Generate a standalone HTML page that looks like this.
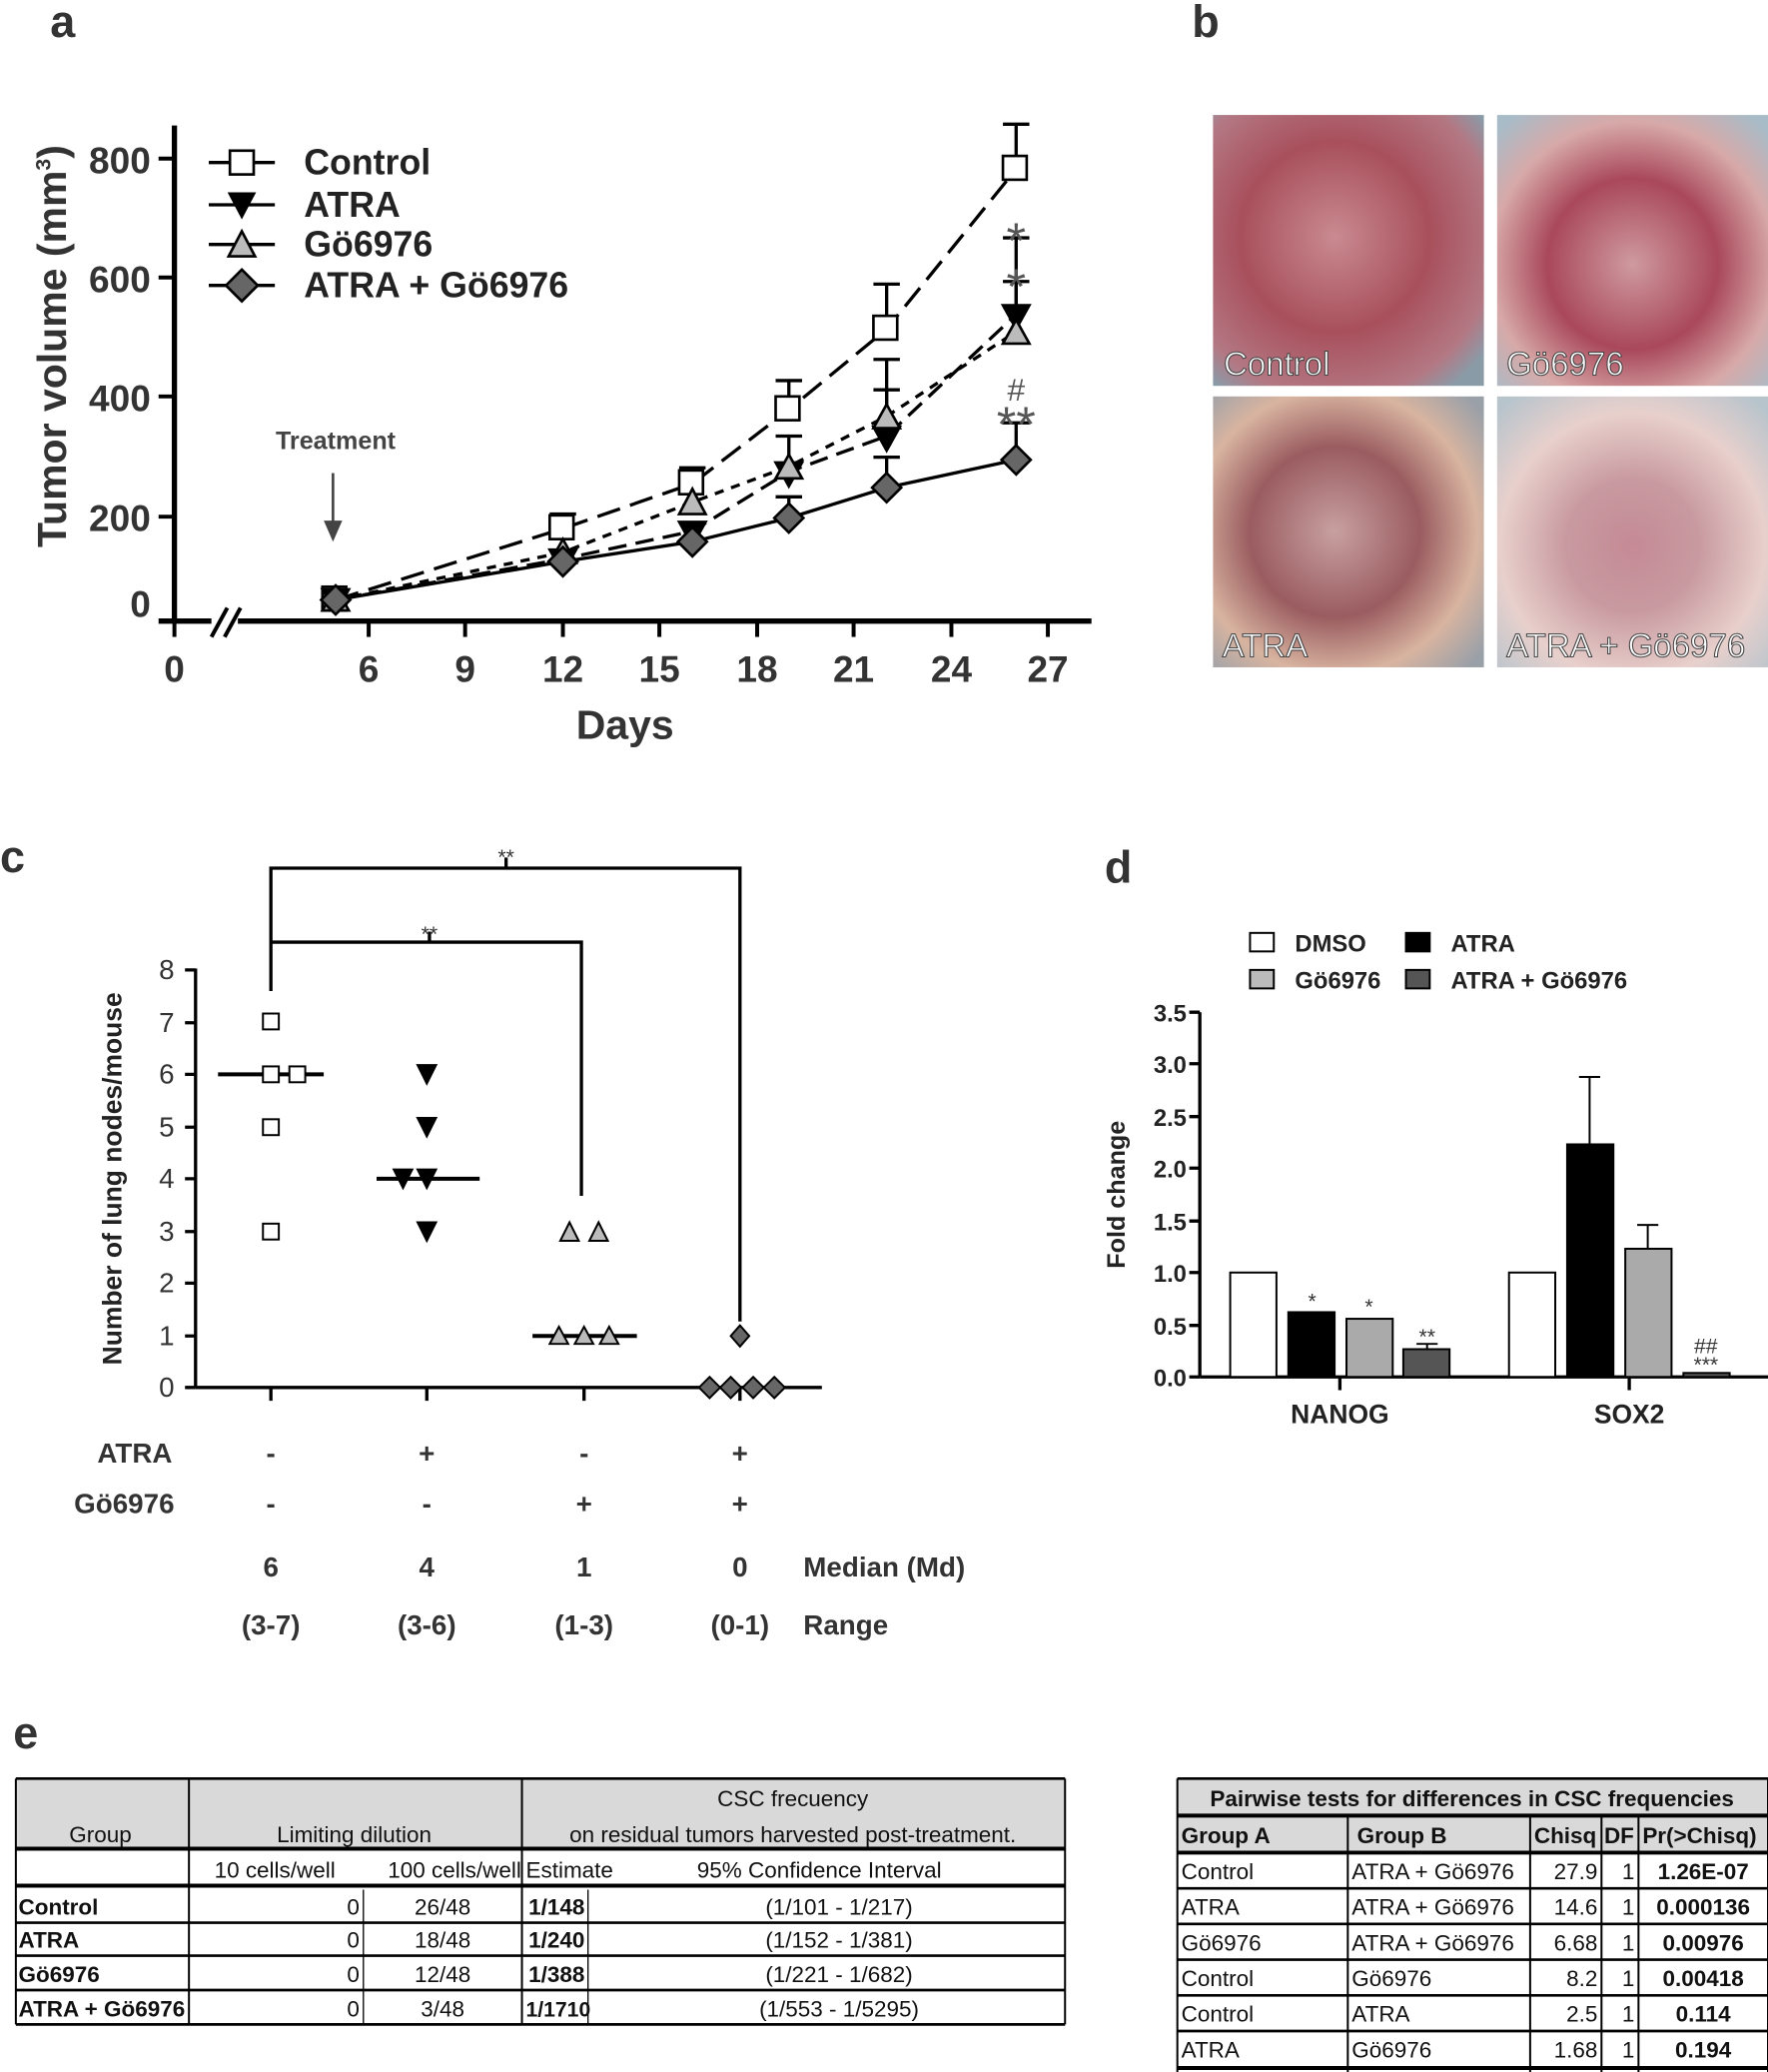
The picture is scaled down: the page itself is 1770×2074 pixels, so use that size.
<!DOCTYPE html>
<html><head><meta charset="utf-8"><style>
html,body{margin:0;padding:0;background:#fff;}
svg{display:block;}
text{font-family:"Liberation Sans",sans-serif;}
</style></head><body>
<svg width="1770" height="2074" viewBox="0 0 1338 1568" preserveAspectRatio="none" xmlns="http://www.w3.org/2000/svg">
<defs>
<radialGradient id="p1" cx="0.45" cy="0.45" r="0.7"><stop offset="0" stop-color="#c98a90"/><stop offset="0.5" stop-color="#a8505c"/><stop offset="0.85" stop-color="#b37883"/><stop offset="1" stop-color="#8a9ba8"/></radialGradient>
<radialGradient id="p2" cx="0.5" cy="0.55" r="0.7"><stop offset="0" stop-color="#cf9aa0"/><stop offset="0.45" stop-color="#a9485a"/><stop offset="0.75" stop-color="#d7a9a8"/><stop offset="1" stop-color="#a8bcc8"/></radialGradient>
<radialGradient id="p3" cx="0.45" cy="0.5" r="0.7"><stop offset="0" stop-color="#c8a0a0"/><stop offset="0.45" stop-color="#9a5c60"/><stop offset="0.75" stop-color="#d8b4a0"/><stop offset="1" stop-color="#9aa0a8"/></radialGradient>
<radialGradient id="p4" cx="0.5" cy="0.55" r="0.7"><stop offset="0" stop-color="#c58a95"/><stop offset="0.35" stop-color="#c89aa0"/><stop offset="0.7" stop-color="#e8d0cc"/><stop offset="1" stop-color="#b8c4cc"/></radialGradient>
</defs>

<!-- Panel a -->
<text x="38" y="28" font-size="34" font-weight="bold" fill="#333">a</text>
<g stroke="#000" stroke-width="4" fill="none">
<line x1="132" y1="95" x2="132" y2="470"/>
<line x1="120" y1="470" x2="160" y2="470"/>
<line x1="180" y1="470" x2="826" y2="470"/>
</g>
<g stroke="#000" stroke-width="3">
<line x1="160" y1="482" x2="172" y2="460"/><line x1="170" y1="482" x2="182" y2="460"/>
<line x1="120" y1="120" x2="132" y2="120"/><line x1="120" y1="210" x2="132" y2="210"/><line x1="120" y1="300" x2="132" y2="300"/><line x1="120" y1="391" x2="132" y2="391"/>
<line x1="132" y1="470" x2="132" y2="482"/><line x1="279" y1="470" x2="279" y2="482"/><line x1="352" y1="470" x2="352" y2="482"/><line x1="426" y1="470" x2="426" y2="482"/><line x1="499" y1="470" x2="499" y2="482"/><line x1="573" y1="470" x2="573" y2="482"/><line x1="646" y1="470" x2="646" y2="482"/><line x1="720" y1="470" x2="720" y2="482"/><line x1="793" y1="470" x2="793" y2="482"/>
</g>
<g font-size="28" font-weight="bold" fill="#333" text-anchor="end">
<text x="114" y="131">800</text><text x="114" y="221">600</text><text x="114" y="311">400</text><text x="114" y="402">200</text><text x="114" y="467">0</text>
</g>
<g font-size="28" font-weight="bold" fill="#333" text-anchor="middle">
<text x="132" y="516">0</text><text x="279" y="516">6</text><text x="352" y="516">9</text><text x="426" y="516">12</text><text x="499" y="516">15</text><text x="573" y="516">18</text><text x="646" y="516">21</text><text x="720" y="516">24</text><text x="793" y="516">27</text>
<text x="473" y="559" font-size="31">Days</text>
<text transform="translate(50,262) rotate(-90)" font-size="31">Tumor volume (mm<tspan font-size="16" dy="-12">3</tspan><tspan dy="12">)</tspan></text>
</g>
<text x="254" y="340" font-size="19" font-weight="bold" fill="#444" text-anchor="middle">Treatment</text>
<line x1="252" y1="358" x2="252" y2="396" stroke="#444" stroke-width="2"/>
<polygon points="245,394 259,394 252,410" fill="#444"/>

<g fill="none" stroke="#000" stroke-width="2.5">
<polyline points="254,454 426,400 524,366 597,310 671,249 769,128" stroke-dasharray="18,8"/>
<polyline points="254,454 426,423 524,402 597,357 671,330 769,238" stroke-dasharray="14,7"/>
<polyline points="254,454 426,418 524,380 597,353 671,315 769,251" stroke-dasharray="7,6"/>
<polyline points="254,454 426,425 524,410 597,392 671,369 769,348"/>
<path d="M426,400V389M416,389H436 M524,366V354M514,354H534 M597,310V288M587,288H607 M671,249V215M661,215H681 M769,128V94M759,94H779"/>
<path d="M597,357V330M587,330H607 M671,330V295M661,295H681 M769,238V180M759,180H779"/>
<path d="M671,315V272M661,272H681 M769,251V213M759,213H779"/>
<path d="M597,392V376M587,376H607 M671,369V346M661,346H681 M769,348V320M759,320H779"/>
</g>
<g stroke="#000" stroke-width="2">
<g fill="#fff"><rect x="244" y="444" width="18" height="18"/><rect x="416" y="390" width="18" height="18"/><rect x="514" y="356" width="18" height="18"/><rect x="587" y="300" width="18" height="18"/><rect x="661" y="239" width="18" height="18"/><rect x="759" y="118" width="18" height="18"/></g>
<g fill="#000"><polygon points="244,446 264,446 254,464"/><polygon points="416,416 436,416 426,434"/><polygon points="514,395 534,395 524,413"/><polygon points="587,350 607,350 597,368"/><polygon points="661,323 681,323 671,341"/><polygon points="759,231 779,231 769,249"/></g>
<g fill="#bbb"><polygon points="244,462 264,462 254,444"/><polygon points="416,426 436,426 426,408"/><polygon points="514,389 534,389 524,370"/><polygon points="587,362 607,362 597,344"/><polygon points="661,324 681,324 671,306"/><polygon points="759,260 779,260 769,242"/></g>
<g fill="#666"><polygon points="254,443 265,454 254,465 243,454"/><polygon points="426,414 437,425 426,436 415,425"/><polygon points="524,399 535,410 524,421 513,410"/><polygon points="597,381 608,392 597,403 586,392"/><polygon points="671,358 682,369 671,380 660,369"/><polygon points="769,337 780,348 769,359 758,348"/></g>
</g>
<g font-size="38" fill="#555" text-anchor="middle">
<text x="769" y="195">*</text><text x="769" y="230">*</text><text x="769" y="303" font-size="24">#</text><text x="769" y="334">**</text>
</g>
<g stroke="#000" stroke-width="2.5">
<line x1="158" y1="123" x2="208" y2="123"/><line x1="158" y1="155" x2="208" y2="155"/><line x1="158" y1="185" x2="208" y2="185"/><line x1="158" y1="216" x2="208" y2="216"/>
<rect x="174" y="114" width="18" height="18" fill="#fff" stroke-width="2"/>
<polygon points="173,146 193,146 183,165" fill="#000" stroke-width="1"/>
<polygon points="173,194 193,194 183,175" fill="#bbb" stroke-width="2"/>
<polygon points="183,204 195,216 183,228 171,216" fill="#666" stroke-width="2"/>
</g>
<g font-size="27" font-weight="bold" fill="#222">
<text x="230" y="132">Control</text><text x="230" y="164">ATRA</text><text x="230" y="194">Gö6976</text><text x="230" y="225">ATRA + Gö6976</text>
</g>

<!-- Panel b -->
<text x="902" y="28" font-size="34" font-weight="bold" fill="#333">b</text>
<rect x="918" y="87" width="205" height="205" fill="url(#p1)"/>
<rect x="1133" y="87" width="205" height="205" fill="url(#p2)"/>
<rect x="918" y="300" width="205" height="205" fill="url(#p3)"/>
<rect x="1133" y="300" width="205" height="205" fill="url(#p4)"/>
<g font-size="25" fill="#fff" stroke="#444" stroke-width="0.8">
<text x="926" y="284">Control</text><text x="1140" y="284">Gö6976</text><text x="925" y="497">ATRA</text><text x="1140" y="497">ATRA + Gö6976</text>
</g>

<!-- Panel c -->
<text x="0" y="660" font-size="34" font-weight="bold" fill="#333">c</text>
<g stroke="#000" stroke-width="2.5" fill="none">
<line x1="148" y1="733" x2="148" y2="1050"/>
<line x1="148" y1="1050" x2="622" y2="1050"/>
<path d="M205,750V657H560V1000 M383,657V649 M205,713H440V905 M325,713V705"/>
<path d="M140,734H148M140,774H148M140,813H148M140,853H148M140,892H148M140,932H148M140,971H148M140,1011H148M140,1050H148"/>
<path d="M205,1050V1060M323,1050V1060M442,1050V1060M560,1050V1060"/>
<path d="M165,813H245M285,892H363M403,1011H482" stroke-width="3"/>
</g>
<g font-size="21" fill="#333" text-anchor="end">
<text x="132" y="741">8</text><text x="132" y="781">7</text><text x="132" y="820">6</text><text x="132" y="860">5</text><text x="132" y="899">4</text><text x="132" y="939">3</text><text x="132" y="978">2</text><text x="132" y="1018">1</text><text x="132" y="1057">0</text>
</g>
<text transform="translate(92,892) rotate(-90)" font-size="20" font-weight="bold" fill="#222" text-anchor="middle">Number of lung nodes/mouse</text>
<g font-size="16" fill="#333" text-anchor="middle"><text x="383" y="654">**</text><text x="325" y="712">**</text></g>
<g stroke="#000" stroke-width="1.5">
<g fill="#fff"><rect x="199" y="767" width="12" height="12"/><rect x="199" y="807" width="12" height="12"/><rect x="219" y="807" width="12" height="12"/><rect x="199" y="847" width="12" height="12"/><rect x="199" y="926" width="12" height="12"/></g>
<g fill="#000"><polygon points="316,806 330,806 323,820"/><polygon points="316,846 330,846 323,860"/><polygon points="298,885 312,885 305,899"/><polygon points="316,885 330,885 323,899"/><polygon points="316,925 330,925 323,939"/></g>
<g fill="#bbb"><polygon points="424,939 438,939 431,925"/><polygon points="446,939 460,939 453,925"/><polygon points="416,1017 430,1017 423,1004"/><polygon points="435,1017 449,1017 442,1004"/><polygon points="454,1017 468,1017 461,1004"/></g>
<g fill="#666"><polygon points="560,1003 567,1011 560,1019 553,1011"/><polygon points="537,1042 545,1050 537,1058 529,1050"/><polygon points="553,1042 561,1050 553,1058 545,1050"/><polygon points="570,1042 578,1050 570,1058 562,1050"/><polygon points="586,1042 594,1050 586,1058 578,1050"/></g>
</g>
<g font-size="21" font-weight="bold" fill="#333" text-anchor="middle">
<text x="102" y="1107">ATRA</text><text x="94" y="1145">Gö6976</text>
<text x="205" y="1107">-</text><text x="323" y="1107">+</text><text x="442" y="1107">-</text><text x="560" y="1107">+</text>
<text x="205" y="1145">-</text><text x="323" y="1145">-</text><text x="442" y="1145">+</text><text x="560" y="1145">+</text>
<text x="205" y="1193">6</text><text x="323" y="1193">4</text><text x="442" y="1193">1</text><text x="560" y="1193">0</text>
<text x="205" y="1237">(3-7)</text><text x="323" y="1237">(3-6)</text><text x="442" y="1237">(1-3)</text><text x="560" y="1237">(0-1)</text>
<text x="608" y="1193" text-anchor="start">Median (Md)</text><text x="608" y="1237" text-anchor="start">Range</text>
</g>

<!-- Panel d -->
<text x="836" y="668" font-size="34" font-weight="bold" fill="#333">d</text>
<g stroke="#000" stroke-width="1.5">
<rect x="946" y="706" width="18" height="14" fill="#fff"/><rect x="1064" y="706" width="18" height="14" fill="#000"/>
<rect x="946" y="734" width="18" height="14" fill="#bbb"/><rect x="1064" y="734" width="18" height="14" fill="#555"/>
</g>
<g font-size="18" font-weight="bold" fill="#222">
<text x="980" y="720">DMSO</text><text x="1098" y="720">ATRA</text><text x="980" y="748">Gö6976</text><text x="1098" y="748">ATRA + Gö6976</text>
</g>
<g stroke="#000" stroke-width="2.5" fill="none">
<line x1="908" y1="766" x2="908" y2="1042"/><line x1="908" y1="1042" x2="1338" y2="1042"/>
<path d="M900,766H908M900,805H908M900,845H908M900,884H908M900,924H908M900,963H908M900,1003H908M900,1042H908"/>
<path d="M1014,1042V1052M1233,1042V1052"/>
</g>
<g font-size="18" font-weight="bold" fill="#222" text-anchor="end">
<text x="898" y="773">3.5</text><text x="898" y="812">3.0</text><text x="898" y="852">2.5</text><text x="898" y="891">2.0</text><text x="898" y="931">1.5</text><text x="898" y="970">1.0</text><text x="898" y="1010">0.5</text><text x="898" y="1049">0.0</text>
</g>
<text transform="translate(851,904) rotate(-90)" font-size="19" font-weight="bold" fill="#222" text-anchor="middle">Fold change</text>
<g stroke="#000" stroke-width="1.5">
<rect x="931" y="963" width="35" height="79" fill="#fff"/>
<rect x="975" y="993" width="35" height="49" fill="#000"/>
<rect x="1019" y="998" width="35" height="44" fill="#aaa"/>
<rect x="1062" y="1021" width="35" height="21" fill="#555"/>
<rect x="1142" y="963" width="35" height="79" fill="#fff"/>
<rect x="1186" y="866" width="35" height="176" fill="#000"/>
<rect x="1230" y="945" width="35" height="97" fill="#aaa"/>
<rect x="1274" y="1039" width="35" height="3" fill="#555"/>
<path d="M1203,866V815M1195,815H1211 M1247,945V927M1239,927H1255 M1080,1021V1017M1072,1017H1088" fill="none"/>
</g>
<g font-size="16" fill="#333" text-anchor="middle">
<text x="993" y="990">*</text><text x="1036" y="994">*</text><text x="1080" y="1017">**</text><text x="1291" y="1024">##</text><text x="1291" y="1038">***</text>
</g>
<g font-size="20" font-weight="bold" fill="#222" text-anchor="middle"><text x="1014" y="1077">NANOG</text><text x="1233" y="1077">SOX2</text></g>

<!-- Panel e -->
<text x="10" y="1323" font-size="34" font-weight="bold" fill="#333">e</text>
<rect x="12" y="1346" width="794" height="53" fill="#d9d9d9"/>
<g stroke="#000" fill="none">
<path d="M12,1346H806 M12,1532H806" stroke-width="2"/>
<path d="M12,1399H806 M12,1427H806" stroke-width="3"/>
<path d="M12,1455H806 M12,1480H806 M12,1506H806" stroke-width="2"/>
<path d="M12,1346V1532 M143,1346V1532 M395,1346V1532 M806,1346V1532" stroke-width="1.5"/>
<path d="M275,1430V1532 M445,1430V1532" stroke-width="1"/>
</g>
<g font-size="17" fill="#111">
<text x="76" y="1394" text-anchor="middle">Group</text>
<text x="268" y="1394" text-anchor="middle">Limiting dilution</text>
<text x="600" y="1367" text-anchor="middle">CSC frecuency</text>
<text x="600" y="1394" text-anchor="middle">on residual tumors harvested post-treatment.</text>
<text x="208" y="1421" text-anchor="middle">10 cells/well</text><text x="344" y="1421" text-anchor="middle">100 cells/well</text>
<text x="398" y="1421">Estimate</text><text x="620" y="1421" text-anchor="middle">95% Confidence Interval</text>
<g font-weight="bold"><text x="14" y="1449">Control</text><text x="14" y="1474">ATRA</text><text x="14" y="1500">Gö6976</text><text x="14" y="1526">ATRA + Gö6976</text>
<text x="400" y="1449">1/148</text><text x="400" y="1474">1/240</text><text x="400" y="1500">1/388</text><text x="398" y="1526" font-size="16">1/1710</text></g>
<g text-anchor="end"><text x="272" y="1449">0</text><text x="272" y="1474">0</text><text x="272" y="1500">0</text><text x="272" y="1526">0</text></g>
<g text-anchor="middle"><text x="335" y="1449">26/48</text><text x="335" y="1474">18/48</text><text x="335" y="1500">12/48</text><text x="335" y="1526">3/48</text>
<text x="635" y="1449">(1/101 - 1/217)</text><text x="635" y="1474">(1/152 - 1/381)</text><text x="635" y="1500">(1/221 - 1/682)</text><text x="635" y="1526">(1/553 - 1/5295)</text></g>
</g>

<rect x="891" y="1346" width="447" height="56" fill="#d9d9d9"/>
<g stroke="#000" fill="none">
<path d="M891,1346H1338" stroke-width="2"/>
<path d="M891,1374H1338 M891,1402H1338" stroke-width="3"/>
<path d="M891,1429H1338 M891,1456H1338 M891,1483H1338 M891,1510H1338 M891,1537H1338" stroke-width="2"/>
<path d="M891,1565H1338" stroke-width="3"/>
<path d="M891,1346V1568 M1338,1346V1568 M1020,1374V1568 M1158,1374V1568 M1212,1374V1568 M1240,1374V1568" stroke-width="1.5"/>
</g>
<g font-size="17" fill="#111">
<text x="1114" y="1367" text-anchor="middle" font-weight="bold">Pairwise tests for differences in CSC frequencies</text>
<g font-weight="bold"><text x="894" y="1395">Group A</text><text x="1027" y="1395">Group B</text><text x="1161" y="1395">Chisq</text><text x="1214" y="1395">DF</text><text x="1243" y="1395">Pr(&gt;Chisq)</text></g>
<text x="894" y="1422">Control</text><text x="894" y="1449">ATRA</text><text x="894" y="1476">Gö6976</text><text x="894" y="1503">Control</text><text x="894" y="1530">Control</text><text x="894" y="1557">ATRA</text>
<text x="1023" y="1422">ATRA + Gö6976</text><text x="1023" y="1449">ATRA + Gö6976</text><text x="1023" y="1476">ATRA + Gö6976</text><text x="1023" y="1503">Gö6976</text><text x="1023" y="1530">ATRA</text><text x="1023" y="1557">Gö6976</text>
<g text-anchor="end"><text x="1209" y="1422">27.9</text><text x="1209" y="1449">14.6</text><text x="1209" y="1476">6.68</text><text x="1209" y="1503">8.2</text><text x="1209" y="1530">2.5</text><text x="1209" y="1557">1.68</text>
<text x="1237" y="1422">1</text><text x="1237" y="1449">1</text><text x="1237" y="1476">1</text><text x="1237" y="1503">1</text><text x="1237" y="1530">1</text><text x="1237" y="1557">1</text></g>
<g text-anchor="middle" font-weight="bold"><text x="1289" y="1422">1.26E-07</text><text x="1289" y="1449">0.000136</text><text x="1289" y="1476">0.00976</text><text x="1289" y="1503">0.00418</text><text x="1289" y="1530">0.114</text><text x="1289" y="1557">0.194</text></g>
</g>
</svg>
</body></html>
